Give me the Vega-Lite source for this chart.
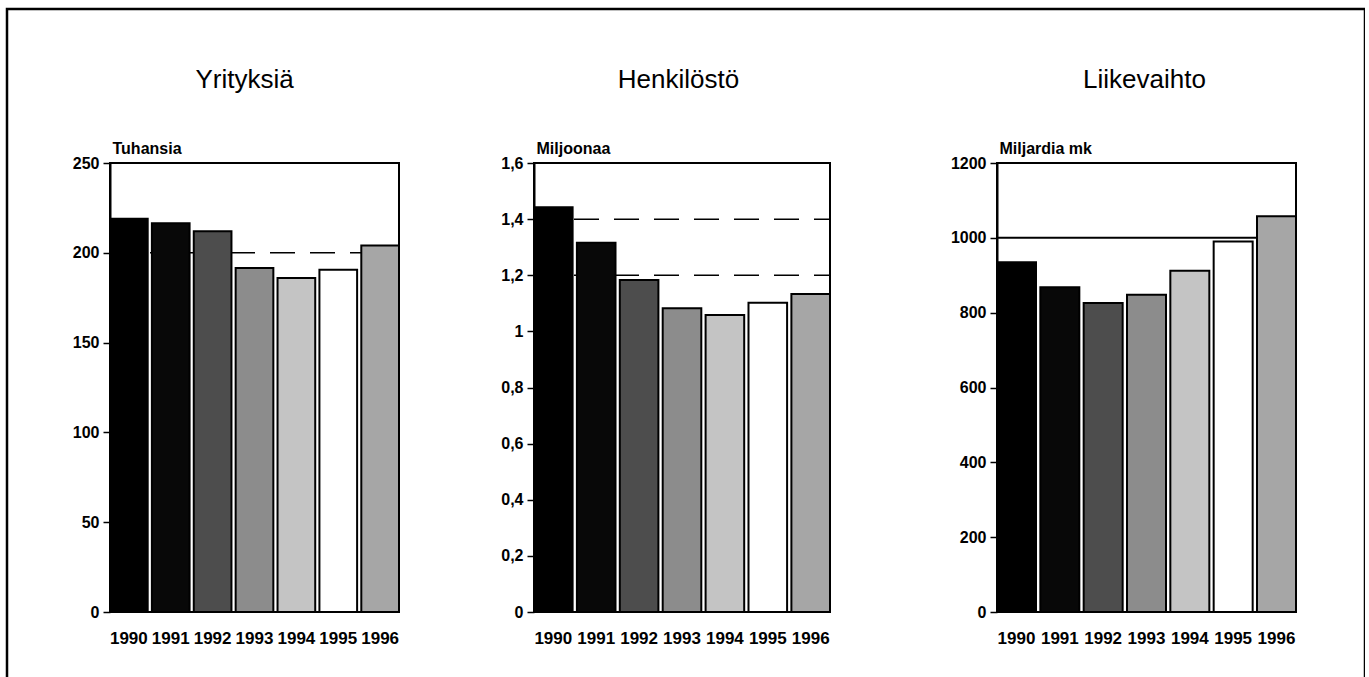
{
  "$schema": "https://vega.github.io/schema/vega-lite/v6.json",
  "width": 1358,
  "height": 672,
  "autosize": {"type": "none"},
  "padding": {"left": 7, "top": 9, "right": 0, "bottom": 0},
  "background": "white",
  "config": {
    "view": {"stroke": "black", "strokeWidth": 2.5},
    "font": "Liberation Sans",
    "axis": {
      "grid": false,
      "labelColor": "black",
      "titleColor": "black",
      "domainColor": "black",
      "tickColor": "black"
    },
    "axisX": {
      "labelAngle": 0,
      "labelFontSize": 17,
      "labelFontWeight": "bold",
      "titleFontSize": 26,
      "titleFontWeight": "normal"
    }
  },
  "datasets": {
    "yritykset": [
      {"vuosi": "1990", "arvo": 219},
      {"vuosi": "1991", "arvo": 216.5},
      {"vuosi": "1992", "arvo": 212},
      {"vuosi": "1993", "arvo": 191.5},
      {"vuosi": "1994", "arvo": 186},
      {"vuosi": "1995", "arvo": 190.5},
      {"vuosi": "1996", "arvo": 204}
    ],
    "henkilosto": [
      {"vuosi": "1990", "arvo": 1.442},
      {"vuosi": "1991", "arvo": 1.316},
      {"vuosi": "1992", "arvo": 1.183},
      {"vuosi": "1993", "arvo": 1.082},
      {"vuosi": "1994", "arvo": 1.058},
      {"vuosi": "1995", "arvo": 1.102},
      {"vuosi": "1996", "arvo": 1.133}
    ],
    "liikevaihto": [
      {"vuosi": "1990", "arvo": 935},
      {"vuosi": "1991", "arvo": 868},
      {"vuosi": "1992", "arvo": 826},
      {"vuosi": "1993", "arvo": 848},
      {"vuosi": "1994", "arvo": 912},
      {"vuosi": "1995", "arvo": 990},
      {"vuosi": "1996", "arvo": 1058}
    ],
    "apu1": [{"taso": 200}],
    "apu2": [{"taso": 1.2}, {"taso": 1.4}],
    "apu3": [{"taso": 1000}]
  },
  "resolve": {
    "scale": {"x": "independent", "y": "independent"},
    "axis": {"x": "independent", "y": "independent"}
  },
  "layer": [
    {
      "layer": [
        {
          "data": {"name": "apu1"},
          "mark": {"type": "rule", "strokeDash": [25, 15], "strokeWidth": 1.5, "color": "black"},
          "encoding": {
            "x": {"datum": "1990", "type": "nominal", "bandPosition": 0, "axis": null},
            "x2": {"datum": "1996", "bandPosition": 1},
            "y": {"field": "taso", "type": "quantitative"}
          }
        },
        {
          "data": {"name": "yritykset"},
          "mark": {"type": "bar", "stroke": "black", "strokeWidth": 2},
          "encoding": {
            "x": {
              "field": "vuosi", "type": "nominal",
              "scale": {"range": [103, 392], "paddingInner": 0.1, "paddingOuter": 0},
              "axis": {"orient": "bottom", "offset": -69, "domain": false, "ticks": false, "labelPadding": 18, "title": null}
            },
            "y": {
              "field": "arvo", "type": "quantitative",
              "scale": {"domain": [0, 250], "range": [603, 154], "nice": false},
              "axis": {"orient": "left", "offset": -103, "values": [0, 50, 100, 150, 200, 250], "format": "d", "title": "Tuhansia",
                       "domain": true, "domainWidth": 2, "ticks": true, "tickSize": 7, "tickWidth": 1.5,
                       "labelFontSize": 16, "labelFontWeight": "bold", "labelPadding": 4,
                       "titleAngle": 0, "titleAlign": "left", "titleBaseline": "alphabetic", "titleX": 2, "titleY": 144,
                       "titleFontSize": 16, "titleFontWeight": "bold"}
            },
            "fill": {
              "field": "vuosi", "type": "nominal", "legend": null,
              "scale": {"domain": ["1990", "1991", "1992", "1993", "1994", "1995", "1996"],
                        "range": ["#000000", "#080808", "#4d4d4d", "#8c8c8c", "#c4c4c4", "#ffffff", "#a6a6a6"]}
            }
          }
        },
        {
          "data": {"name": "apu1"},
          "mark": {"type": "rect", "filled": false, "stroke": "black", "strokeWidth": 2},
          "encoding": {
            "x": {"datum": "1990", "type": "nominal", "bandPosition": 0,
                  "axis": {"orient": "top", "domain": false, "ticks": false, "labels": false, "title": "Yrityksiä",
                           "titleX": 237, "titleY": 70, "titleBaseline": "middle", "titleAlign": "center"}},
            "x2": {"datum": "1996", "bandPosition": 1},
            "y": {"datum": 0, "type": "quantitative"},
            "y2": {"datum": 250}
          }
        }
      ]
    },
    {
      "layer": [
        {
          "data": {"name": "apu2"},
          "mark": {"type": "rule", "strokeDash": [25, 15], "strokeWidth": 1.5, "color": "black"},
          "encoding": {
            "x": {"datum": "1990", "type": "nominal", "bandPosition": 0, "axis": null},
            "x2": {"datum": "1996", "bandPosition": 1},
            "y": {"field": "taso", "type": "quantitative"}
          }
        },
        {
          "data": {"name": "henkilosto"},
          "mark": {"type": "bar", "stroke": "black", "strokeWidth": 2},
          "encoding": {
            "x": {
              "field": "vuosi", "type": "nominal",
              "scale": {"range": [527, 823], "paddingInner": 0.1, "paddingOuter": 0},
              "axis": {"orient": "bottom", "offset": -69, "domain": false, "ticks": false, "labelPadding": 18, "title": null}
            },
            "y": {
              "field": "arvo", "type": "quantitative",
              "scale": {"domain": [0, 1.6], "range": [603, 154], "nice": false},
              "axis": {"orient": "left", "offset": -527, "values": [0, 0.2, 0.4, 0.6, 0.8, 1, 1.2, 1.4, 1.6],
                       "labelExpr": "replace(format(datum.value, '~g'), '.', ',')", "title": "Miljoonaa",
                       "domain": true, "domainWidth": 2, "ticks": true, "tickSize": 7, "tickWidth": 1.5,
                       "labelFontSize": 16, "labelFontWeight": "bold", "labelPadding": 4,
                       "titleAngle": 0, "titleAlign": "left", "titleBaseline": "alphabetic", "titleX": 2, "titleY": 144,
                       "titleFontSize": 16, "titleFontWeight": "bold"}
            },
            "fill": {
              "field": "vuosi", "type": "nominal", "legend": null,
              "scale": {"domain": ["1990", "1991", "1992", "1993", "1994", "1995", "1996"],
                        "range": ["#000000", "#080808", "#4d4d4d", "#8c8c8c", "#c4c4c4", "#ffffff", "#a6a6a6"]}
            }
          }
        },
        {
          "data": {"name": "apu1"},
          "mark": {"type": "rect", "filled": false, "stroke": "black", "strokeWidth": 2},
          "encoding": {
            "x": {"datum": "1990", "type": "nominal", "bandPosition": 0,
                  "axis": {"orient": "top", "domain": false, "ticks": false, "labels": false, "title": "Henkilöstö",
                           "titleX": 671, "titleY": 70, "titleBaseline": "middle", "titleAlign": "center"}},
            "x2": {"datum": "1996", "bandPosition": 1},
            "y": {"datum": 0, "type": "quantitative"},
            "y2": {"datum": 1.6}
          }
        }
      ]
    },
    {
      "layer": [
        {
          "data": {"name": "apu3"},
          "mark": {"type": "rule", "strokeWidth": 2, "color": "black"},
          "encoding": {
            "x": {"datum": "1990", "type": "nominal", "bandPosition": 0, "axis": null},
            "x2": {"datum": "1996", "bandPosition": 1},
            "y": {"field": "taso", "type": "quantitative"}
          }
        },
        {
          "data": {"name": "liikevaihto"},
          "mark": {"type": "bar", "stroke": "black", "strokeWidth": 2},
          "encoding": {
            "x": {
              "field": "vuosi", "type": "nominal",
              "scale": {"range": [990, 1289], "paddingInner": 0.1, "paddingOuter": 0},
              "axis": {"orient": "bottom", "offset": -69, "domain": false, "ticks": false, "labelPadding": 18, "title": null}
            },
            "y": {
              "field": "arvo", "type": "quantitative",
              "scale": {"domain": [0, 1200], "range": [603, 154], "nice": false},
              "axis": {"orient": "left", "offset": -990, "values": [0, 200, 400, 600, 800, 1000, 1200], "format": "d", "title": "Miljardia mk",
                       "domain": true, "domainWidth": 2, "ticks": true, "tickSize": 7, "tickWidth": 1.5,
                       "labelFontSize": 16, "labelFontWeight": "bold", "labelPadding": 4,
                       "titleAngle": 0, "titleAlign": "left", "titleBaseline": "alphabetic", "titleX": 2, "titleY": 144,
                       "titleFontSize": 16, "titleFontWeight": "bold"}
            },
            "fill": {
              "field": "vuosi", "type": "nominal", "legend": null,
              "scale": {"domain": ["1990", "1991", "1992", "1993", "1994", "1995", "1996"],
                        "range": ["#000000", "#080808", "#4d4d4d", "#8c8c8c", "#c4c4c4", "#ffffff", "#a6a6a6"]}
            }
          }
        },
        {
          "data": {"name": "apu1"},
          "mark": {"type": "rect", "filled": false, "stroke": "black", "strokeWidth": 2},
          "encoding": {
            "x": {"datum": "1990", "type": "nominal", "bandPosition": 0,
                  "axis": {"orient": "top", "domain": false, "ticks": false, "labels": false, "title": "Liikevaihto",
                           "titleX": 1137, "titleY": 70, "titleBaseline": "middle", "titleAlign": "center"}},
            "x2": {"datum": "1996", "bandPosition": 1},
            "y": {"datum": 0, "type": "quantitative"},
            "y2": {"datum": 1200}
          }
        }
      ]
    }
  ]
}
